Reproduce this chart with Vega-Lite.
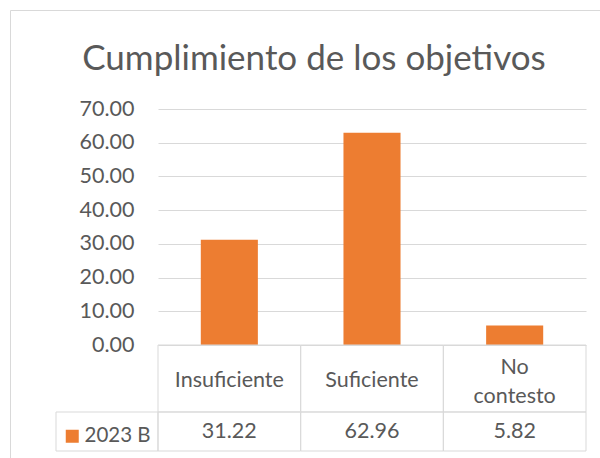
{
  "$schema": "https://vega.github.io/schema/vega-lite/v6.json",
  "width": 428,
  "height": 342,
  "autosize": {"type": "none"},
  "padding": {"left": 158, "top": 109, "right": 14, "bottom": 7},
  "background": "white",
  "config": {"view": {"stroke": null}, "font": "Lato"},
  "title": {
    "text": "Cumplimiento de los objetivos",
    "fontSize": 35,
    "font": "Lato",
    "fontWeight": "normal",
    "color": "#595959",
    "anchor": "middle",
    "dx": -58,
    "offset": -95,
    "baseline": "alphabetic"
  },
  "data": {
    "values": [
      {"categoria": "Insuficiente", "serie": "2023 B", "valor": 31.22},
      {"categoria": "Suficiente", "serie": "2023 B", "valor": 62.96},
      {"categoria": "No contesto", "serie": "2023 B", "valor": 5.82}
    ]
  },
  "layer": [
    {
      "transform": [{"aggregate": [{"op": "count", "as": "n"}]}],
      "mark": {"type": "rect", "fill": "transparent", "stroke": "#d9d9d9", "strokeWidth": 1},
      "encoding": {
        "x": {"datum": "marco", "type": "nominal", "scale": {"type": "band", "range": [-147.5, 460], "paddingInner": 0, "paddingOuter": 0}, "axis": null},
        "y": {"datum": "marco", "type": "nominal", "scale": {"type": "band", "range": [-98.5, 360], "paddingInner": 0, "paddingOuter": 0}, "axis": null}
      }
    },
    {
      "mark": {"type": "bar"},
      "encoding": {
        "x": {"field": "categoria", "type": "nominal", "sort": ["Insuficiente", "Suficiente", "No contesto"], "scale": {"type": "band", "paddingInner": 0.6, "paddingOuter": 0.3}, "axis": null},
        "y": {
          "field": "valor", "type": "quantitative",
          "scale": {"domain": [0, 70], "range": [236, 0], "nice": false},
          "axis": {"values": [0, 10, 20, 30, 40, 50, 60, 70], "format": ".2f", "grid": true, "gridColor": "#d9d9d9", "gridWidth": 1, "domain": false, "ticks": false, "labelFontSize": 21.5, "labelColor": "#595959", "labelFont": "Lato", "labelPadding": 24, "title": null}
        },
        "color": {
          "field": "serie", "type": "nominal",
          "scale": {"range": ["#ED7D31"]},
          "legend": {"title": null, "orient": "none", "legendX": -96, "legendY": 317, "symbolType": "square", "symbolSize": 169, "symbolStrokeWidth": 0, "labelFontSize": 20.5, "labelColor": "#595959", "labelFont": "Lato", "labelOffset": 2}
        }
      }
    },
    {
      "layer": [
        {
          "mark": {"type": "rect", "fill": "transparent", "stroke": "#d9d9d9", "strokeWidth": 1},
          "encoding": {
            "x": {"field": "categoria", "type": "nominal", "sort": ["Insuficiente", "Suficiente", "No contesto"], "scale": {"type": "band", "paddingInner": 0, "paddingOuter": 0}, "axis": null},
            "y": {"datum": "nombres", "type": "nominal", "scale": {"type": "band", "range": [236, 303], "paddingInner": 0, "paddingOuter": 0}, "axis": null}
          }
        },
        {
          "transform": [{"filter": "indexof(datum.categoria, ' ') < 0"}],
          "mark": {"type": "text", "fontSize": 21.5, "color": "#595959", "font": "Lato", "dy": 2},
          "encoding": {
            "x": {"field": "categoria", "type": "nominal", "sort": ["Insuficiente", "Suficiente", "No contesto"]},
            "y": {"datum": "nombres", "type": "nominal"},
            "text": {"field": "categoria"}
          }
        },
        {
          "transform": [{"filter": "indexof(datum.categoria, ' ') >= 0"}],
          "mark": {"type": "text", "fontSize": 21.5, "color": "#595959", "font": "Lato", "lineBreak": " ", "lineHeight": 29, "dy": -11},
          "encoding": {
            "x": {"field": "categoria", "type": "nominal", "sort": ["Insuficiente", "Suficiente", "No contesto"]},
            "y": {"datum": "nombres", "type": "nominal"},
            "text": {"field": "categoria"}
          }
        }
      ]
    },
    {
      "layer": [
        {
          "mark": {"type": "rect", "fill": "transparent", "stroke": "#d9d9d9", "strokeWidth": 1},
          "encoding": {
            "x": {"field": "categoria", "type": "nominal", "sort": ["Insuficiente", "Suficiente", "No contesto"], "scale": {"type": "band", "paddingInner": 0, "paddingOuter": 0}, "axis": null},
            "y": {"datum": "valores", "type": "nominal", "scale": {"type": "band", "range": [303, 342], "paddingInner": 0, "paddingOuter": 0}, "axis": null}
          }
        },
        {
          "mark": {"type": "text", "fontSize": 21.5, "color": "#595959", "font": "Lato"},
          "encoding": {
            "x": {"field": "categoria", "type": "nominal", "sort": ["Insuficiente", "Suficiente", "No contesto"]},
            "y": {"datum": "valores", "type": "nominal"},
            "text": {"field": "valor", "type": "quantitative", "format": ".2f"}
          }
        }
      ]
    },
    {
      "transform": [{"aggregate": [{"op": "count", "as": "n"}], "groupby": ["serie"]}],
      "mark": {"type": "rect", "fill": "transparent", "stroke": "#d9d9d9", "strokeWidth": 1},
      "encoding": {
        "x": {"field": "serie", "type": "nominal", "scale": {"type": "band", "range": [-102, 0], "paddingInner": 0, "paddingOuter": 0}, "axis": null},
        "y": {"datum": "valores", "type": "nominal", "scale": {"type": "band", "range": [303, 342], "paddingInner": 0, "paddingOuter": 0}, "axis": null}
      }
    }
  ],
  "resolve": {
    "scale": {"x": "independent", "y": "independent", "color": "independent"},
    "axis": {"x": "independent", "y": "independent"}
  }
}
